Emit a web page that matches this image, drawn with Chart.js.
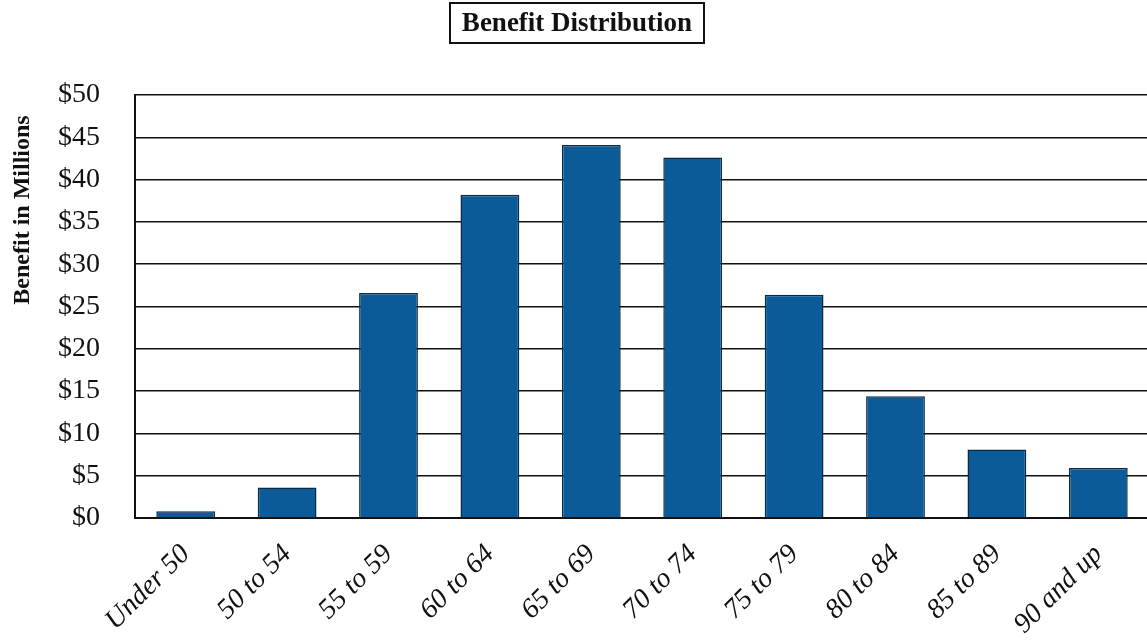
<!DOCTYPE html>
<html lang="en">
<head>
  <meta charset="UTF-8" />
  <title>Benefit Distribution</title>
  <script src="https://cdn.jsdelivr.net/npm/chart.js"></script>
  <style>
    html, body {
      margin: 0;
      padding: 0;
      overflow: hidden;
      background: #ffffff;
    }
    .chart-container {
      width: 1152px;
      height: 643px;
    }
  </style>
</head>
<body>
  <div class="chart-container">
    <canvas id="benefitChart"></canvas>
  </div>

  <script>
    const ageGroups = ['Under 50', '50 to 54', '55 to 59', '60 to 64', '65 to 69',
                       '70 to 74', '75 to 79', '80 to 84', '85 to 89', '90 and up'];
    const benefitMillions = [0.8, 3.6, 26.6, 38.2, 44.1, 42.6, 26.4, 14.4, 8.1, 5.9];
    const yTicks = [0, 5, 10, 15, 20, 25, 30, 35, 40, 45, 50];
    const chartTitle = 'Benefit Distribution';
    const yTitle = 'Benefit in Millions';

    const serif = '"Liberation Serif", "Times New Roman", serif';

    // boxed title + rotated y title, drawn by hand
    const decorations = {
      id: 'decorations',
      afterDraw(chart) {
        const ctx = chart.ctx;
        ctx.save();
        ctx.font = 'bold 27px ' + serif;
        ctx.fillStyle = '#111';
        ctx.textAlign = 'center';
        ctx.textBaseline = 'middle';
        ctx.fillText(chartTitle, 577, 24);
        ctx.strokeStyle = '#111';
        ctx.lineWidth = 2;
        ctx.strokeRect(450, 3, 254, 40);

        ctx.translate(23, 210);
        ctx.rotate(-Math.PI / 2);
        ctx.font = 'bold 24px ' + serif;
        ctx.fillText(yTitle, 0, 0);
        ctx.restore();
      }
    };

    const ctx = document.getElementById('benefitChart').getContext('2d');
    new Chart(ctx, {
      type: 'bar',
      data: {
        labels: ageGroups,
        datasets: [{
          label: 'Benefit',
          data: benefitMillions,
          backgroundColor: '#0b5b98',
          borderColor: '#0a2a45',
          borderWidth: 1.5,
          barPercentage: 0.58,
          categoryPercentage: 1.0
        }]
      },
      options: {
        responsive: true,
        maintainAspectRatio: false,
        animation: false,
        layout: { padding: { top: 95, right: 3, left: 0, bottom: 0 } },
        plugins: {
          legend: { display: false },
          title: { display: false },
          tooltip: { enabled: false }
        },
        scales: {
          x: {
            grid: { display: false, drawTicks: false },
            border: { display: true, color: '#111', width: 2 },
            ticks: {
              color: '#111',
              font: { family: serif, size: 28, style: 'italic' },
              maxRotation: 45,
              minRotation: 45,
              autoSkip: false,
              padding: 20
            },
            afterFit(scale) { scale.height = 125; }
          },
          y: {
            min: 0,
            max: 50,
            afterBuildTicks(scale) {
              scale.ticks = yTicks.map(v => ({ value: v }));
            },
            grid: { color: '#111', lineWidth: 1.5, drawTicks: false },
            border: { display: true, color: '#111', width: 2 },
            ticks: {
              color: '#111',
              font: { family: serif, size: 28 },
              padding: 35,
              callback: v => '$' + v
            },
            afterFit(scale) { scale.width = 135; }
          }
        }
      },
      plugins: [decorations]
    });
  </script>
</body>
</html>
